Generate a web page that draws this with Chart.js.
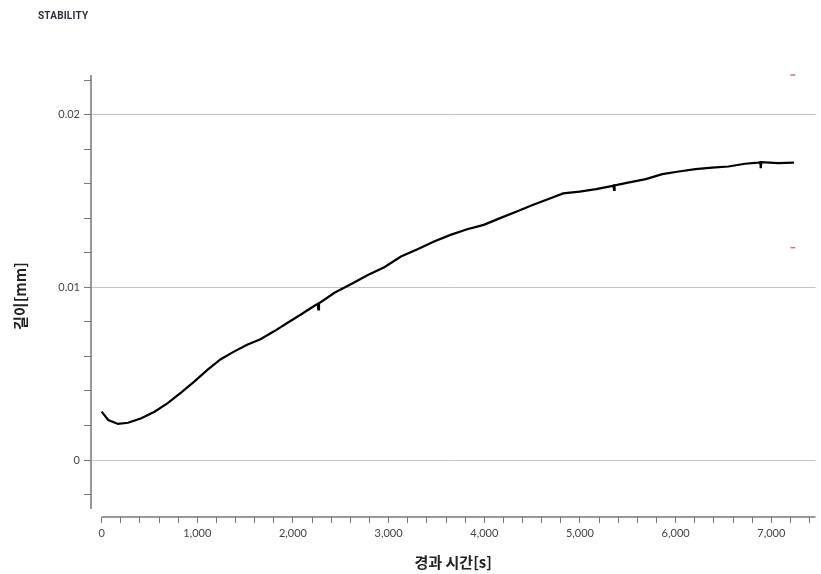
<!DOCTYPE html>
<html>
<head>
<meta charset="utf-8">
<script src="https://cdn.jsdelivr.net/npm/chart.js@4/dist/chart.umd.min.js"></script>
<style>
  html, body { margin: 0; padding: 0; background: #fff; }
  #wrap { position: relative; width: 821px; height: 574px; }
  #title { position: absolute; left: 38px; top: 10px; line-height: 1; font: bold 10px Roboto, "Liberation Sans", sans-serif; color: #2e2e38; letter-spacing: 0.2px; }
</style>
</head>
<body>
<div id="wrap">
  <div id="title">STABILITY</div>
  <canvas id="c" width="821" height="574"></canvas>
</div>
<script>
// elapsed time [s]
const times = [0,69,172,276,415,553,691,830,968,1106,1245,1383,1521,1660,1798,1936,2075,2213,2260,2265,2272,2351,2438,2610,2783,2955,3129,3302,3475,3647,3821,3994,4166,4339,4512,4685,4824,4996,5169,5342,5350,5356,5362,5515,5688,5861,6033,6207,6380,6552,6725,6863,6885,6890,6895,7071,7237];
// length [mm]
const lengths = [0.0028,0.00232,0.00209,0.00216,0.00242,0.0028,0.00329,0.0039,0.00454,0.00522,0.00584,0.00628,0.00667,0.0070,0.00744,0.00792,0.0084,0.00889,0.00905,0.00872,0.00908,0.00937,0.0097,0.0102,0.01072,0.01117,0.01179,0.01221,0.01266,0.01304,0.01337,0.01362,0.01401,0.0144,0.01478,0.01515,0.01544,0.01555,0.01569,0.01588,0.0159,0.01565,0.0159,0.01608,0.01627,0.01656,0.01671,0.01685,0.01694,0.0170,0.01716,0.01723,0.01725,0.01691,0.01725,0.0172,0.01723];
// limit markers
const markerTimes = [7225, 7225];
const markerValues = [0.0223, 0.0123];
// x tick positions (every 200 s, labelled every 1000 s)
const xTickValues = [0,200,400,600,800,1000,1200,1400,1600,1800,2000,2200,2400,2600,2800,3000,3200,3400,3600,3800,4000,4200,4400,4600,4800,5000,5200,5400,5600,5800,6000,6200,6400,6600,6800,7000,7200,7400];

const xTitle = '경과 시간[s]';
const yTitle = '길이[mm]';

const curve = times.map((t, i) => ({ x: t, y: lengths[i] }));
const markers = markerTimes.map((t, i) => ({ x: t, y: markerValues[i] }));

const axisColor = '#777';
const tickFont = { family: 'Lato, "Open Sans", sans-serif', size: 11 };
const titleFont = { family: '"Noto Sans CJK KR", sans-serif', size: 15, weight: 'bold' };

const axisLines = {
  id: 'axisLines',
  beforeDatasetsDraw(chart) {
    const { ctx, chartArea, scales } = chart;
    ctx.save();
    ctx.strokeStyle = axisColor;
    ctx.lineWidth = 1.5;
    ctx.beginPath();
    ctx.moveTo(chartArea.left, chartArea.top);
    ctx.lineTo(chartArea.left, scales.y.getPixelForValue(-0.00284));
    ctx.moveTo(scales.x.getPixelForValue(0), chartArea.bottom);
    ctx.lineTo(chartArea.right, chartArea.bottom);
    ctx.stroke();
    ctx.restore();
  }
};

new Chart(document.getElementById('c'), {
  type: 'line',
  data: {
    datasets: [
      {
        data: curve,
        borderColor: '#000',
        borderWidth: 2.2,
        pointRadius: 0,
        tension: 0,
        fill: false
      },
      {
        data: markers,
        showLine: false,
        pointStyle: 'line',
        pointRadius: 2.5,
        borderColor: '#e07070',
        borderWidth: 1.5,
        clip: false
      }
    ]
  },
  options: {
    responsive: false,
    animation: false,
    layout: { padding: { top: 75, left: 0, right: 0, bottom: 0 } },
    plugins: { legend: { display: false }, tooltip: { enabled: false } },
    scales: {
      x: {
        type: 'linear',
        min: -111,
        max: 7462,
        afterBuildTicks(s) { s.ticks = xTickValues.map(v => ({ value: v })); },
        afterFit(s) { s.height = 57; },
        border: { display: false },
        grid: { drawOnChartArea: false, tickLength: 6, tickColor: axisColor, lineWidth: 1 },
        ticks: {
          autoSkip: false,
          maxRotation: 0,
          padding: 4,
          color: '#444',
          font: tickFont,
          callback(v) { return Math.round(v) % 1000 === 0 ? Math.round(v).toLocaleString('en-US') : ''; }
        },
        title: { display: true, text: xTitle, font: titleFont, color: '#222', padding: { top: 0, bottom: 3 } }
      },
      y: {
        type: 'linear',
        min: -0.0033,
        max: 0.0223,
        afterFit(s) { s.width = 91; },
        border: { display: false },
        grid: {
          drawOnChartArea: true,
          tickLength: 7,
          lineWidth: 1,
          tickColor: axisColor,
          color(ctx) {
            const v = ctx.tick ? Math.round(ctx.tick.value * 10000) : 1;
            return v % 100 === 0 ? '#c4c4c4' : 'rgba(0,0,0,0)';
          }
        },
        ticks: {
          stepSize: 0.002,
          includeBounds: false,
          autoSkip: false,
          padding: 4,
          color: '#444',
          font: tickFont,
          callback(v) {
            const r = Math.round(v * 10000);
            if (r % 100 !== 0) return '';
            return r === 0 ? '0' : (r / 10000).toString();
          }
        },
        title: { display: true, text: yTitle, font: titleFont, color: '#222', padding: { top: 11, bottom: 0 } }
      }
    }
  },
  plugins: [axisLines]
});
</script>
</body>
</html>
